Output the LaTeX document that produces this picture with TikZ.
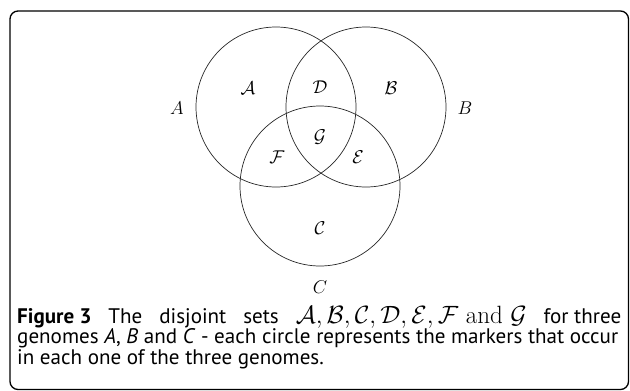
\documentclass[tikz,border=0pt]{standalone}
\usepackage{fix-cm}
\usepackage{fontspec}
\newfontfamily\capf{PT Sans}
\newlength\capw
\begin{document}
\settowidth\capw{\capf\fontsize{10}{12}\selectfont genomes \textit{A}, \textit{B} and \textit{C} - each circle represents the markers that occur}%
\pgfmathsetmacro\capsz{10*601/\capw}%
\begin{tikzpicture}[x=1pt,y=-1pt,
  venn/.style={circle, draw=black!85, line width=0.7pt, minimum size=160pt, inner sep=0pt},
  lab/.style={inner sep=0pt, font=\fontsize{18.5}{22}\selectfont},
  capline/.style={anchor=base west, inner sep=0pt, font=\capf\fontsize{\capsz}{\capsz}\selectfont}]
\useasboundingbox (0,0) rectangle (630,391);
\draw[line width=1.3pt, rounded corners=8pt] (10,11) rectangle (628.5,389.5);
\node[venn] (cA) at (276,107) {};
\node[venn] (cB) at (366,107) {};
\node[venn] (cC) at (320,186) {};
\node[lab] (sA) at (248,88) {$\mathcal{A}$};
\node[lab] (sD) at (320,87) {$\mathcal{D}$};
\node[lab] (sB) at (391,88) {$\mathcal{B}$};
\node[lab] (sG) at (320,137) {$\mathcal{G}$};
\node[lab] (sF) at (277,157) {$\mathcal{F}$};
\node[lab] (sE) at (358,157) {$\mathcal{E}$};
\node[lab] (sC) at (320,228) {$\mathcal{C}$};
\node[lab] (lA) at (177,108) {$A$};
\node[lab] (lB) at (465,108) {$B$};
\node[lab] (lC) at (320,287) {$C$};
\node[capline] (cap1) at (17,323) {\makebox[604pt][s]{\mbox{\textbf{Figure 3}} The disjoint sets \mbox{\fontsize{25}{29}\selectfont\rmfamily$\mathcal{A},\mathcal{B},\mathcal{C},\mathcal{D},\mathcal{E},\mathcal{F}$ and $\mathcal{G}$} \mbox{for three}}};
\node[capline] (cap2) at (17,343.5) {genomes \textit{A}, \textit{B} and \textit{C} - each circle represents the markers that occur};
\node[capline] (cap3) at (17,364) {in each one of the three genomes.};
\end{tikzpicture}
\end{document}
